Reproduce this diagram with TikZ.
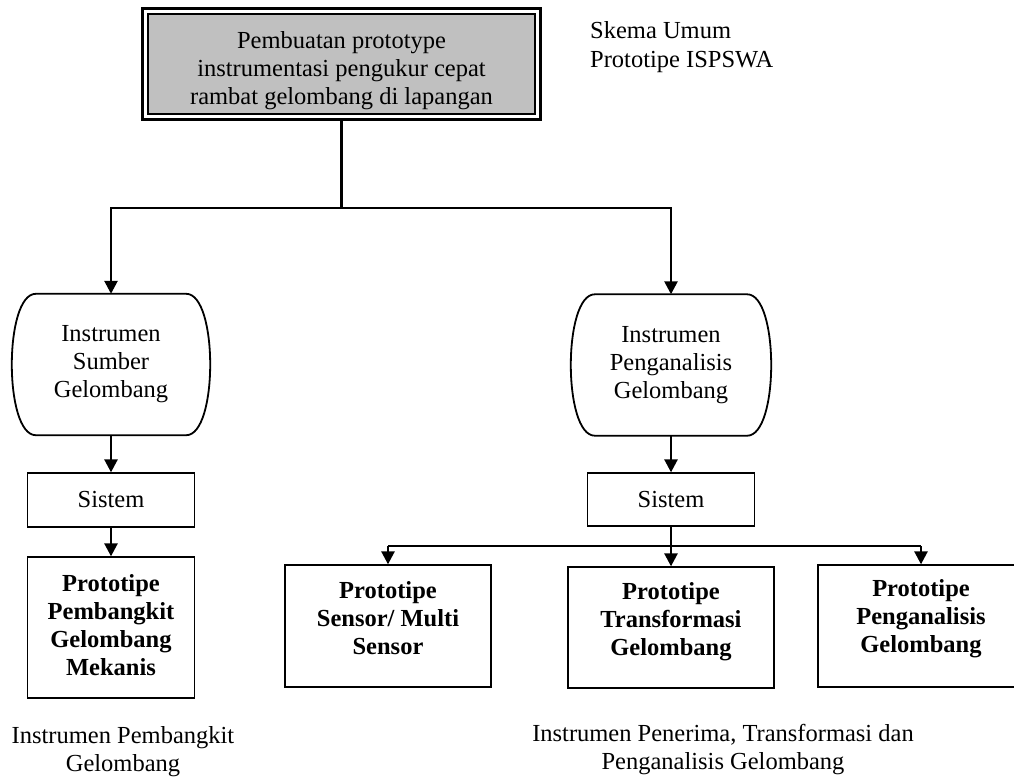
\documentclass[tikz,border=0pt]{standalone}
\usepackage{fontspec}
\setmainfont{Liberation Serif}
\usetikzlibrary{arrows.meta,calc}
\definecolor{headfill}{RGB}{192,192,192}

\begin{document}
\begin{tikzpicture}[x=1pt,y=-1pt,
  every node/.style={font=\fontsize{24.5}{28}\selectfont, align=center, inner sep=0pt},
  box/.style={draw, line width=1.3pt},
  boldtext/.style={font=\fontsize{24.5}{28}\selectfont\bfseries},
  flow/.style={line width=2.6pt, -{Triangle[length=13pt,width=13pt]}},
  link/.style={line width=2.6pt},
  ovalline/.style={line width=1.8pt}
]
\useasboundingbox (0,0) rectangle (1014,778);

% title box with a double frame
\node[fill=headfill, draw, line width=1.6pt, minimum width=387pt, minimum height=100pt]
  (top) at (341.5,64) {};
\draw[line width=3pt] ([shift={(-5,-5)}]top.north west) rectangle ([shift={(5,5)}]top.south east);
\node (toptext) at ([yshift=-7pt]top.center)
  {Pembuatan prototype\\instrumentasi pengukur cepat\\rambat gelombang di lapangan};

\node[anchor=west, align=left, font=\fontsize{24.5}{29.5}\selectfont] (note) at (590,47)
  {Skema Umum\\Prototipe ISPSWA};

% the two instrument groups
\node[minimum width=198pt, minimum height=141pt] (src) at (111,364.5) {Instrumen\\Sumber\\Gelombang};
\node[minimum width=200pt, minimum height=141pt] (ana) at (671,365) {Instrumen\\Penganalisis\\Gelombang};
\foreach \n in {src,ana}{
  \draw[ovalline] ([xshift=24pt]\n.north west) -- ([xshift=-24pt]\n.north east)
    .. controls ([xshift=8pt]\n.north east) and ([xshift=8pt]\n.south east) .. ([xshift=-24pt]\n.south east)
    -- ([xshift=24pt]\n.south west)
    .. controls ([xshift=-8pt]\n.south west) and ([xshift=-8pt]\n.north west) .. cycle;
}

% system boxes
\node[box, minimum width=167pt, minimum height=54pt] (sysL) at (111,500) {Sistem};
\node[box, minimum width=167pt, minimum height=53pt] (sysR) at (671,499.5) {Sistem};

% prototype boxes and their labels
\node[box, minimum width=167pt, minimum height=141pt] (protL) at (111,627.5) {};
\node[boldtext] (protLt) at ([yshift=2pt]protL.center) {Prototipe\\Pembangkit\\Gelombang\\Mekanis};
\node[box, minimum width=206pt, minimum height=122pt] (p1) at (388,626) {};
\node[boldtext] (p1t) at ([yshift=8pt]p1.center) {Prototipe\\Sensor/ Multi\\Sensor};
\node[box, minimum width=206pt, minimum height=121pt] (p2) at (671,627.5) {};
\node[boldtext] (p2t) at ([yshift=6pt]p2.center) {Prototipe\\Transformasi\\Gelombang};
\node[box, minimum width=206pt, minimum height=122pt] (p3) at (921,626) {};
\node[boldtext] (p3t) at ([yshift=7pt]p3.center) {Prototipe\\Penganalisis\\Gelombang};

% captions
\node (capL) at (123,751.5) {Instrumen Pembangkit\\Gelombang};
\node (capR) at (723,749.5) {Instrumen Penerima, Transformasi dan\\Penganalisis Gelombang};

% connectors
\coordinate (split) at (341.5,208);
\coordinate (bus) at (671,546);
\draw[link] ([yshift=-5pt]top.south) -- (split);
\draw[flow] (split) -| (src.north);
\draw[flow] (split) -| (ana.north);
\draw[flow] (src.south) -- (sysL.north);
\draw[flow] (sysL.south) -- (protL.north);
\draw[flow] (ana.south) -- (sysR.north);
\draw[link] (sysR.south) -- (bus);
\draw[link] (p1.north |- bus) -- (p3.north |- bus);
\draw[flow] (p1.north |- bus) -- (p1.north);
\draw[flow] (bus) -- (p2.north);
\draw[flow] (p3.north |- bus) -- (p3.north);
\end{tikzpicture}
\end{document}
